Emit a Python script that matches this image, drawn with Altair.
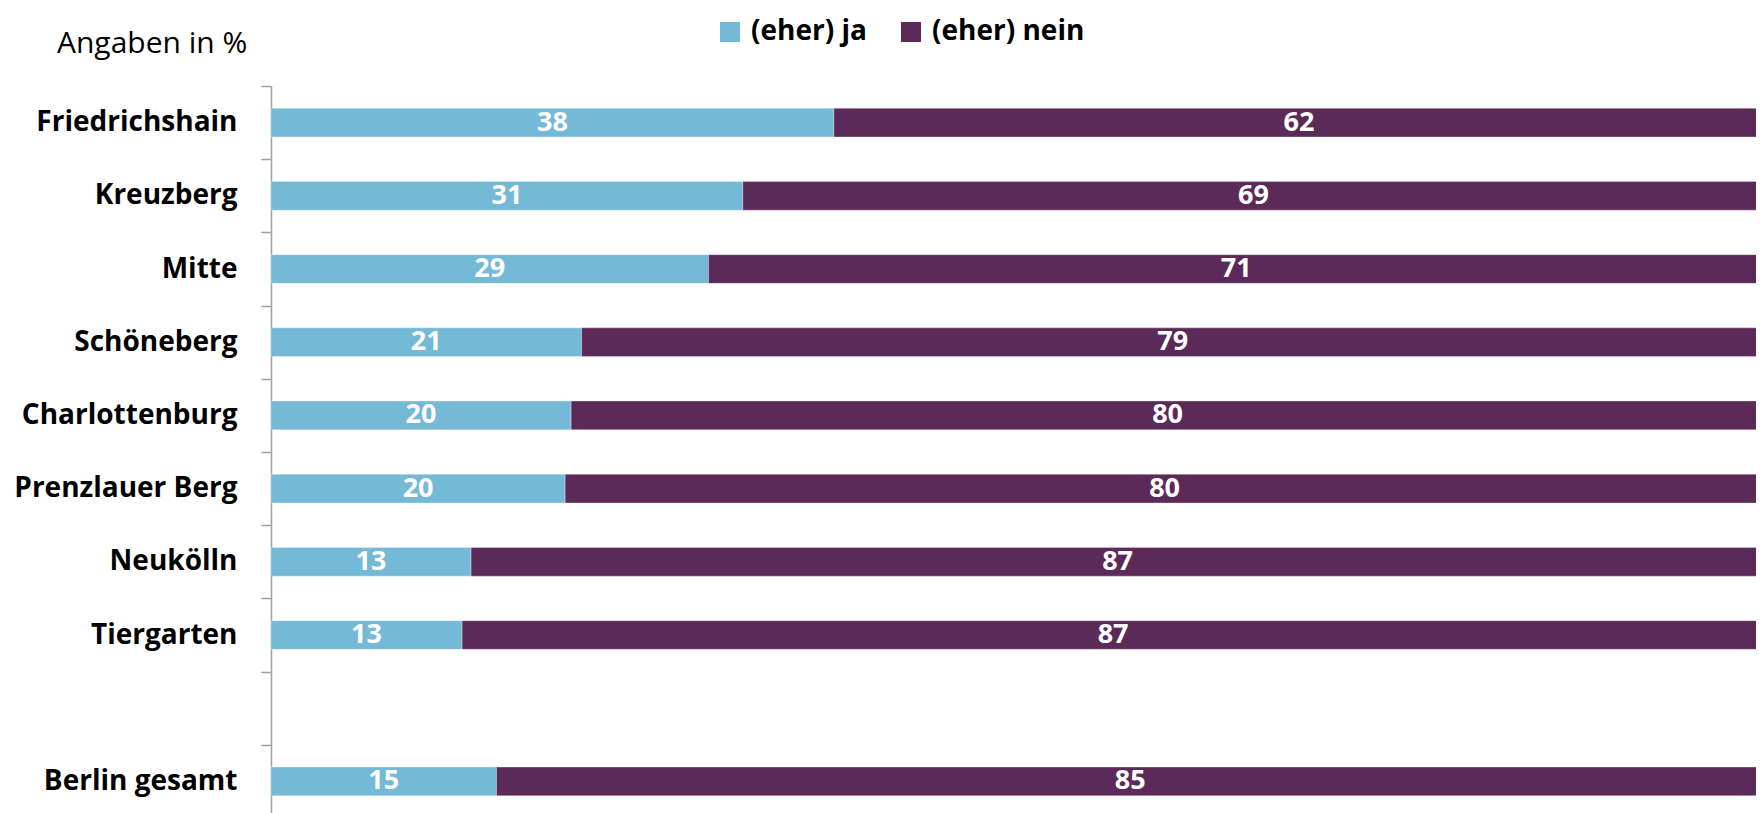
import altair as alt
import pandas as pd

# ---- data ----
categories = ["Friedrichshain", "Kreuzberg", "Mitte", "Schöneberg", "Charlottenburg",
              "Prenzlauer Berg", "Neukölln", "Tiergarten", "Berlin gesamt"]
ja_values = [37.7, 31.6, 29.3, 20.8, 20.1, 19.7, 13.4, 12.8, 15.1]
nein_values = [62.3, 68.4, 70.7, 79.2, 79.9, 80.3, 86.6, 87.2, 84.9]
ja_labels = [38, 31, 29, 21, 20, 20, 13, 13, 15]
nein_labels = [62, 69, 71, 79, 80, 80, 87, 87, 85]
series = ["(eher) ja", "(eher) nein"]
colors = ["#74B9D6", "#5C2A58"]
gap_label = " "
y_domain = categories[:8] + [gap_label] + categories[8:]
# the reference crops the bars slightly before 100 %
x_visible_max = 99.46

rows = []
for i, cat in enumerate(categories):
    rows.append({"Bezirk": cat, "Antwort": series[0], "Wert": ja_values[i],
                 "Label": str(ja_labels[i]), "Reihenfolge": 0})
    rows.append({"Bezirk": cat, "Antwort": series[1], "Wert": nein_values[i],
                 "Label": str(nein_labels[i]), "Reihenfolge": 1})
df = pd.DataFrame(rows)

FONT = "Open Sans"
PLOT_H = 732
STEP = PLOT_H / 10.0

y_scale = alt.Scale(domain=y_domain, paddingInner=0.608, paddingOuter=0.304)
x_scale = alt.Scale(domain=[0, x_visible_max], nice=False, zero=True)

y_enc = alt.Y(
    "Bezirk:N",
    scale=y_scale,
    sort=y_domain,
    axis=alt.Axis(
        title=None,
        labelFont=FONT,
        labelFontWeight="bold",
        labelFontSize=28,
        labelColor="black",
        labelPadding=24,
        labelLimit=400,
        labelOffset=STEP / 2,
        tickSize=10,
        tickOffset=-STEP / 2,
        tickColor="#A0A0A0",
        tickWidth=1.5,
        domainColor="#A0A0A0",
        domainWidth=1.5,
        minExtent=262.7,
        maxExtent=262.7,
        grid=False,
    ),
)

base = alt.Chart(df)

bars = base.mark_bar(stroke="white", strokeWidth=1, strokeOpacity=0.3, clip=True).encode(
    y=y_enc,
    x=alt.X("Wert:Q", stack="zero", scale=x_scale, axis=None),
    color=alt.Color(
        "Antwort:N",
        scale=alt.Scale(domain=series, range=colors),
        legend=alt.Legend(
            title=None,
            orient="none",
            legendX=445,
            legendY=-68,
            direction="horizontal",
            symbolType="square",
            symbolSize=400,
            symbolStrokeWidth=0,
            labelFont=FONT,
            labelFontWeight="bold",
            labelFontSize=28,
            labelColor="black",
            labelOffset=7,
            columnPadding=30,
            padding=0,
        ),
    ),
    order=alt.Order("Reihenfolge:Q"),
)

labels = base.transform_stack(
    stack="Wert",
    as_=["x0", "x1"],
    groupby=["Bezirk"],
    sort=[alt.SortField("Reihenfolge")],
).transform_calculate(
    mid="(datum.x0 + datum.x1) / 2"
).mark_text(
    color="white", font=FONT, fontWeight="bold", fontSize=27, baseline="middle", align="center"
).encode(
    y=y_enc,
    x=alt.X("mid:Q", scale=x_scale, axis=None),
    text="Label:N",
)

chart = alt.layer(bars, labels).properties(
    width=1485,
    height=PLOT_H,
    padding={"left": 0, "top": 10, "right": 0, "bottom": 0},
    title=alt.TitleParams(
        "Angaben in %",
        anchor="start",
        frame="group",
        dx=-214,
        offset=-65,
        baseline="alphabetic",
        font=FONT,
        fontSize=30,
        fontWeight="normal",
        color="black",
    ),
).configure_view(stroke=None)

chart.save("out.html", embed_options={"renderer": "svg", "actions": False})
